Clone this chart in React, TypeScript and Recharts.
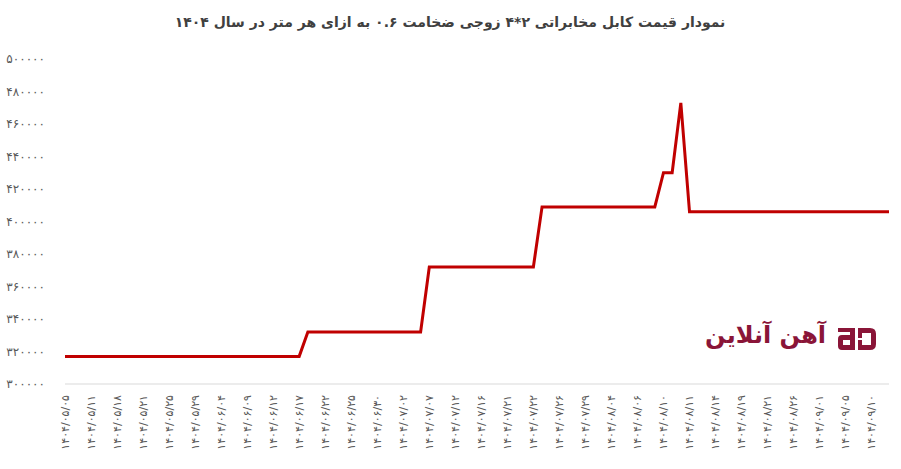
import React from 'react';
import { LineChart, Line, XAxis, YAxis } from 'recharts';

const TITLE = 'نمودار قیمت کابل مخابراتی ۲*۴ زوجی ضخامت ۰.۶ به ازای هر متر در سال ۱۴۰۴';
const BRAND = 'آهن آنلاین';

const dates: string[] = [
  '1404/05/05', '1404/05/06', '1404/05/08',
  '1404/05/11', '1404/05/12', '1404/05/14',
  '1404/05/18', '1404/05/19', '1404/05/20',
  '1404/05/21', '1404/05/22', '1404/05/24',
  '1404/05/25', '1404/05/26', '1404/05/27',
  '1404/05/29', '1404/06/01', '1404/06/02',
  '1404/06/04', '1404/06/05', '1404/06/08',
  '1404/06/09', '1404/06/10', '1404/06/11',
  '1404/06/12', '1404/06/15', '1404/06/16',
  '1404/06/17', '1404/06/18', '1404/06/19',
  '1404/06/22', '1404/06/23', '1404/06/24',
  '1404/06/25', '1404/06/26', '1404/06/29',
  '1404/06/30', '1404/06/31', '1404/07/01',
  '1404/07/02', '1404/07/05', '1404/07/06',
  '1404/07/07', '1404/07/08', '1404/07/09',
  '1404/07/12', '1404/07/13', '1404/07/14',
  '1404/07/16', '1404/07/19', '1404/07/20',
  '1404/07/21', '1404/07/21', '1404/07/22',
  '1404/07/22', '1404/07/23', '1404/07/24',
  '1404/07/26', '1404/07/27', '1404/07/28',
  '1404/07/29', '1404/07/30', '1404/08/03',
  '1404/08/04', '1404/08/04', '1404/08/05',
  '1404/08/06', '1404/08/07', '1404/08/09',
  '1404/08/10', '1404/08/10', '1404/08/11',
  '1404/08/11', '1404/08/12', '1404/08/13',
  '1404/08/14', '1404/08/17', '1404/08/18',
  '1404/08/19', '1404/08/20', '1404/08/20',
  '1404/08/21', '1404/08/24', '1404/08/25',
  '1404/08/26', '1404/08/27', '1404/08/28',
  '1404/09/01', '1404/09/02', '1404/09/03',
  '1404/09/05', '1404/09/08', '1404/09/09',
  '1404/09/10', '1404/09/11', '1404/09/12',
];

const prices: number[] = [
  317000, 317000, 317000, 317000, 317000, 317000, 317000, 317000, 317000, 317000,
  317000, 317000, 317000, 317000, 317000, 317000, 317000, 317000, 317000, 317000,
  317000, 317000, 317000, 317000, 317000, 317000, 317000, 317000,
  332000, 332000, 332000, 332000, 332000, 332000, 332000, 332000, 332000, 332000,
  332000, 332000, 332000, 332000,
  372000, 372000, 372000, 372000, 372000, 372000, 372000, 372000, 372000, 372000,
  372000, 372000, 372000,
  409000, 409000, 409000, 409000, 409000, 409000, 409000, 409000, 409000, 409000,
  409000, 409000, 409000, 409000,
  430000, 430000,
  473000,
  406000, 406000, 406000, 406000, 406000, 406000, 406000, 406000, 406000, 406000,
  406000, 406000, 406000, 406000, 406000, 406000, 406000, 406000, 406000, 406000,
  406000, 406000, 406000, 406000,
];

const yTicks: number[] = [300000, 320000, 340000, 360000, 380000, 400000, 420000, 440000, 460000, 480000, 500000];

const data = dates.map((d, i) => ({ date: d, price: prices[i] }));

const toFa = (s: string | number) => String(s).replace(/\d/g, (c) => '۰۱۲۳۴۵۶۷۸۹'[Number(c)]);

const FONT = '"DejaVu Sans", sans-serif';

const XTick = (props: any) => {
  const { x, y, payload } = props;
  const ty = y + 3;
  return (
    <text
      x={x}
      y={ty}
      transform={`rotate(-90, ${x}, ${ty})`}
      textAnchor="end"
      dy="0.35em"
      fontSize={11}
      letterSpacing={0.4}
      fill="#595959"
      fontFamily={FONT}
    >
      {toFa(payload.value)}
    </text>
  );
};

const YTick = (props: any) => {
  const { x, y, payload } = props;
  return (
    <text
      x={x - 12}
      y={y}
      textAnchor="end"
      dy="0.35em"
      fontSize={12}
      letterSpacing={0.9}
      fill="#595959"
      fontFamily={FONT}
    >
      {toFa(payload.value)}
    </text>
  );
};

const Logo = () => (
  <div style={{ position: 'absolute', left: 690, top: 318, width: 200, height: 40 }}>
    <div
      style={{
        position: 'absolute',
        right: 64,
        top: 1,
        direction: 'rtl',
        fontFamily: FONT,
        fontWeight: 700,
        fontSize: 24,
        color: '#8a1538',
        whiteSpace: 'nowrap',
        lineHeight: '32px',
      }}
    >
      {BRAND}
    </div>
    <svg width={44} height={26} style={{ position: 'absolute', left: 146, top: 8 }}>
      <path d="M2 2 H19 V24 H6 Q2 24 2 20 V13 Q2 9 6 9 H14 V6 H2 Z" fill="#8a1538" />
      <rect x={7} y={14} width={7} height={5} fill="#fff" />
      <path d="M22 2 H34 Q40 2 40 8 V18 Q40 24 34 24 H22 Z" fill="#8a1538" />
      <rect x={26} y={7} width={9} height={12} fill="#fff" />
      <rect x={22} y={12} width={4} height={2} fill="#fff" />
    </svg>
  </div>
);

export default function App() {
  return (
    <div style={{ position: 'absolute', left: 0, top: 0, width: 901, height: 469, background: '#fff' }}>
      <svg width={901} height={40} style={{ position: 'absolute', left: 0, top: 0 }}>
        <text
          x={450}
          y={27}
          textAnchor="middle"
          direction="rtl"
          fontFamily={FONT}
          fontWeight={700}
          fontSize={14}
          fill="#404040"
        >
          {TITLE}
        </text>
      </svg>
      <Logo />
      <div style={{ position: 'absolute', left: 0, top: 0 }}>
        <LineChart width={901} height={469} data={data} margin={{ top: 59, right: 12, left: 0, bottom: 5 }}>
          <XAxis
            dataKey="date"
            interval={2}
            tickLine={false}
            axisLine={{ stroke: '#d9d9d9', strokeWidth: 1 }}
            height={80}
            tick={<XTick />}
          />
          <YAxis
            width={65}
            domain={[300000, 500000]}
            ticks={yTicks}
            tickLine={false}
            axisLine={false}
            tick={<YTick />}
            interval={0}
          />
          <Line
            type="linear"
            dataKey="price"
            stroke="#c00000"
            strokeWidth={3}
            dot={false}
            isAnimationActive={false}
          />
        </LineChart>
      </div>
    </div>
  );
}
